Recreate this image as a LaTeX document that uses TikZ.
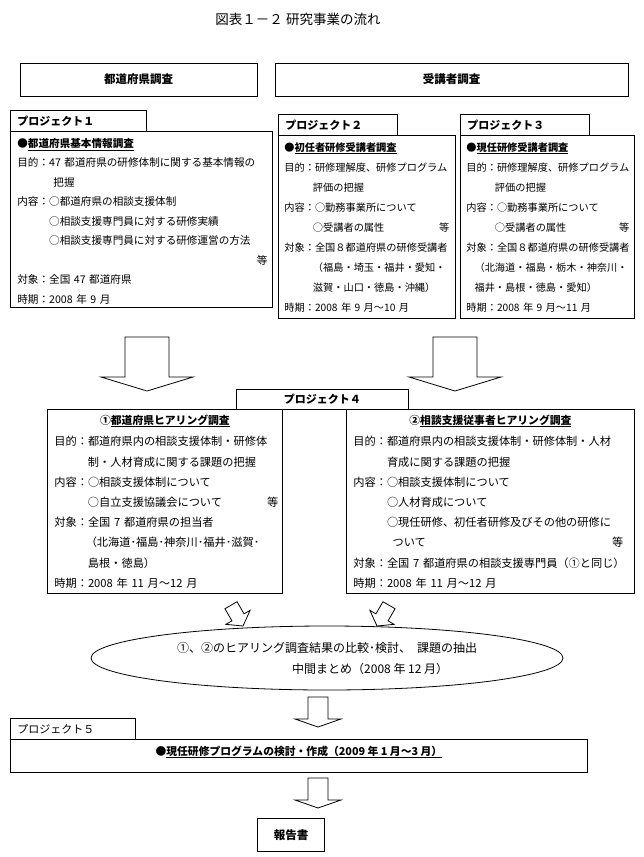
\documentclass[tikz,border=0pt]{standalone}
\usepackage{fontspec}
\newfontfamily\jp{Noto Sans CJK JP}
\usetikzlibrary{shapes.geometric}
\begin{document}
\begin{tikzpicture}[x=1pt,y=-1pt,line width=0.8pt,
  frame/.style={draw,inner sep=0pt,anchor=north west},
  topbox/.style={draw,inner sep=0pt,minimum height=33,font=\jp\bfseries\fontsize{11.5}{14}\selectfont},
  tablabel/.style={anchor=west,inner sep=0pt,font=\jp\bfseries\fontsize{11}{13}\selectfont},
  head/.style={anchor=base,inner sep=0pt,font=\jp\bfseries\fontsize{10.8}{13}\selectfont},
  body/.style={anchor=north west,align=left,inner sep=0pt,font=\jp\fontsize{10.4}{20}\selectfont},
  narrow/.style={font=\jp\fontsize{10.2}{20}\selectfont},
  wide/.style={font=\jp\fontsize{11.2}{20.2}\selectfont},
  bigarrow/.pic={\draw (-22,-54) -- (-22,-14) -- (-46,-14) -- (0,0) -- (46,-14) -- (22,-14) -- (22,-54) -- cycle;},
  midarrow/.pic={\draw (-10,-30) -- (-10,-8) -- (-23,-8) -- (0,0) -- (23,-8) -- (10,-8) -- (10,-30) -- cycle;},
  smallarrow/.pic={\draw (-7,-24) -- (-7,-10) -- (-14,-10) -- (0,0) -- (14,-10) -- (7,-10) -- (7,-24) -- cycle;}]
\useasboundingbox (0,0) rectangle (643,857);

\node[font=\jp\fontsize{13.5}{16}\selectfont] (title) at (298,19) {図表１－２ 研究事業の流れ};
\node[topbox,minimum width=237] (pref) at (138.5,79.5) {都道府県調査};
\node[topbox,minimum width=353] (trainee) at (451.5,79.5) {受講者調査};

\node[frame,minimum width=136,minimum height=21] (p1tab) at (10,110) {};
\node[tablabel] (p1lab) at ([shift={(7,0)}]p1tab.west) {プロジェクト１};
\node[frame,minimum width=262,minimum height=176] (p1) at (10,131) {};
\node[body,text width=250,font=\jp\fontsize{10.6}{19.5}\selectfont] (p1txt) at ([shift={(7,7)}]p1.north west) {{\bfseries ●\underline{都道府県基本情報調査}}\\
目的：47~都道府県の研修体制に関する基本情報の\\
\hspace*{3.4em}把握\\
内容：○都道府県の相談支援体制\\
\hspace*{3em}○相談支援専門員に対する研修実績\\
\hspace*{3em}○相談支援専門員に対する研修運営の方法\\
\mbox{}\hfill 等\\
対象：全国~47~都道府県\\
時期：2008~年~9~月};

\node[frame,minimum width=119,minimum height=21] (p2tab) at (278,114) {};
\node[tablabel] (p2lab) at ([shift={(7,0)}]p2tab.west) {プロジェクト２};
\node[frame,minimum width=177,minimum height=183] (p2) at (278,135) {};
\node[body,narrow,text width=165] (p2txt) at ([shift={(6,7)}]p2.north west) {{\bfseries ●\underline{初任者研修受講者調査}}\\
目的：研修理解度、研修プログラム\\
\hspace*{2.8em}評価の把握\\
内容：○勤務事業所について\\
\hspace*{2.8em}○受講者の属性\hfill 等\\
対象：全国８都道府県の研修受講者\\
\hspace*{2.8em}（福島・埼玉・福井・愛知・\\
\hspace*{2.8em}滋賀・山口・徳島・沖縄）\\
時期：2008~年~9~月～10~月};

\node[frame,minimum width=129,minimum height=21] (p3tab) at (460,114) {};
\node[tablabel] (p3lab) at ([shift={(7,0)}]p3tab.west) {プロジェクト３};
\node[frame,minimum width=174,minimum height=183] (p3) at (460,135) {};
\node[body,narrow,text width=163] (p3txt) at ([shift={(6,7)}]p3.north west) {{\bfseries ●\underline{現任研修受講者調査}}\\
目的：研修理解度、研修プログラム\\
\hspace*{2.8em}評価の把握\\
内容：○勤務事業所について\\
\hspace*{2.8em}○受講者の属性\hfill 等\\
対象：全国８都道府県の研修受講者\\
\hspace*{0.8em}（北海道・福島・栃木・神奈川・\\
\hspace*{0.8em}福井・島根・徳島・愛知）\\
時期：2008~年~9~月～11~月};

\coordinate (a1) at (147,391);
\coordinate (a2) at (455,391);
\pic at (a1) {bigarrow};
\pic at (a2) {bigarrow};

\node[frame,minimum width=172,minimum height=20] (p4tab) at (236,389) {};
\node[tablabel,anchor=center] (p4lab) at (p4tab.center) {プロジェクト４};
\node[frame,minimum width=235,minimum height=184] (p4l) at (47,409) {};
\node[frame,minimum width=288,minimum height=184] (p4r) at (346,409) {};
\draw (p4l.north east) -- (p4r.north west);
\node[head] (p4lhead) at ([shift={(0,15)}]p4l.north) {①\underline{都道府県ヒアリング調査}};
\node[head] (p4rhead) at ([shift={(0,15)}]p4r.north) {②\underline{相談支援従事者ヒアリング調査}};
\node[body,wide,text width=224] (p4ltxt) at ([shift={(7,27)}]p4l.north west) {目的：都道府県内の相談支援体制・研修体\\
\hspace*{3em}制・人材育成に関する課題の把握\\
内容：○相談支援体制について\\
\hspace*{3em}○自立支援協議会について\hfill 等\\
対象：全国~7~都道府県の担当者\\
\hspace*{2.8em}（北海道･福島･神奈川･福井･滋賀･\\
\hspace*{3em}島根・徳島）\\
時期：2008~年~11~月～12~月};
\node[body,wide,text width=270] (p4rtxt) at ([shift={(7,27)}]p4r.north west) {目的：都道府県内の相談支援体制・研修体制・人材\\
\hspace*{3em}育成に関する課題の把握\\
内容：○相談支援体制について\\
\hspace*{3em}○人材育成について\\
\hspace*{3em}○現任研修、初任者研修及びその他の研修に\\
\hspace*{3.5em}ついて\hfill 等\\
対象：全国~7~都道府県の相談支援専門員（①と同じ）\\
時期：2008~年~11~月～12~月};

\coordinate (s1) at (243,626);
\coordinate (s2) at (377,626);
\pic[rotate=30] at (s1) {smallarrow};
\pic[rotate=-30] at (s2) {smallarrow};

\node[draw,ellipse,inner sep=0pt,minimum width=472,minimum height=64,align=left,font=\jp\fontsize{12}{21}\selectfont] (mid) at (327,658) {①、②のヒアリング調査結果の比較･検討、\hspace{0.5em}課題の抽出\\
\hspace*{9.6em}中間まとめ（2008~年~12~月）};

\coordinate (a3) at (318,727);
\pic at (a3) {midarrow};

\node[frame,minimum width=125,minimum height=21] (p5tab) at (10,718) {};
\node[tablabel,font=\jp\fontsize{11}{13}\selectfont] (p5lab) at ([shift={(7,0)}]p5tab.west) {プロジェクト５};
\node[frame,minimum width=577,minimum height=33] (p5) at (10,739) {};
\node[head] (p5txt) at ([shift={(0,16)}]p5.north) {●\underline{現任研修プログラムの検討・作成（2009~年~1~月～3~月）}};

\coordinate (a4) at (318,808);
\pic at (a4) {midarrow};

\node[topbox,minimum width=67] (report) at (291,835) {報告書};
\end{tikzpicture}
\end{document}
